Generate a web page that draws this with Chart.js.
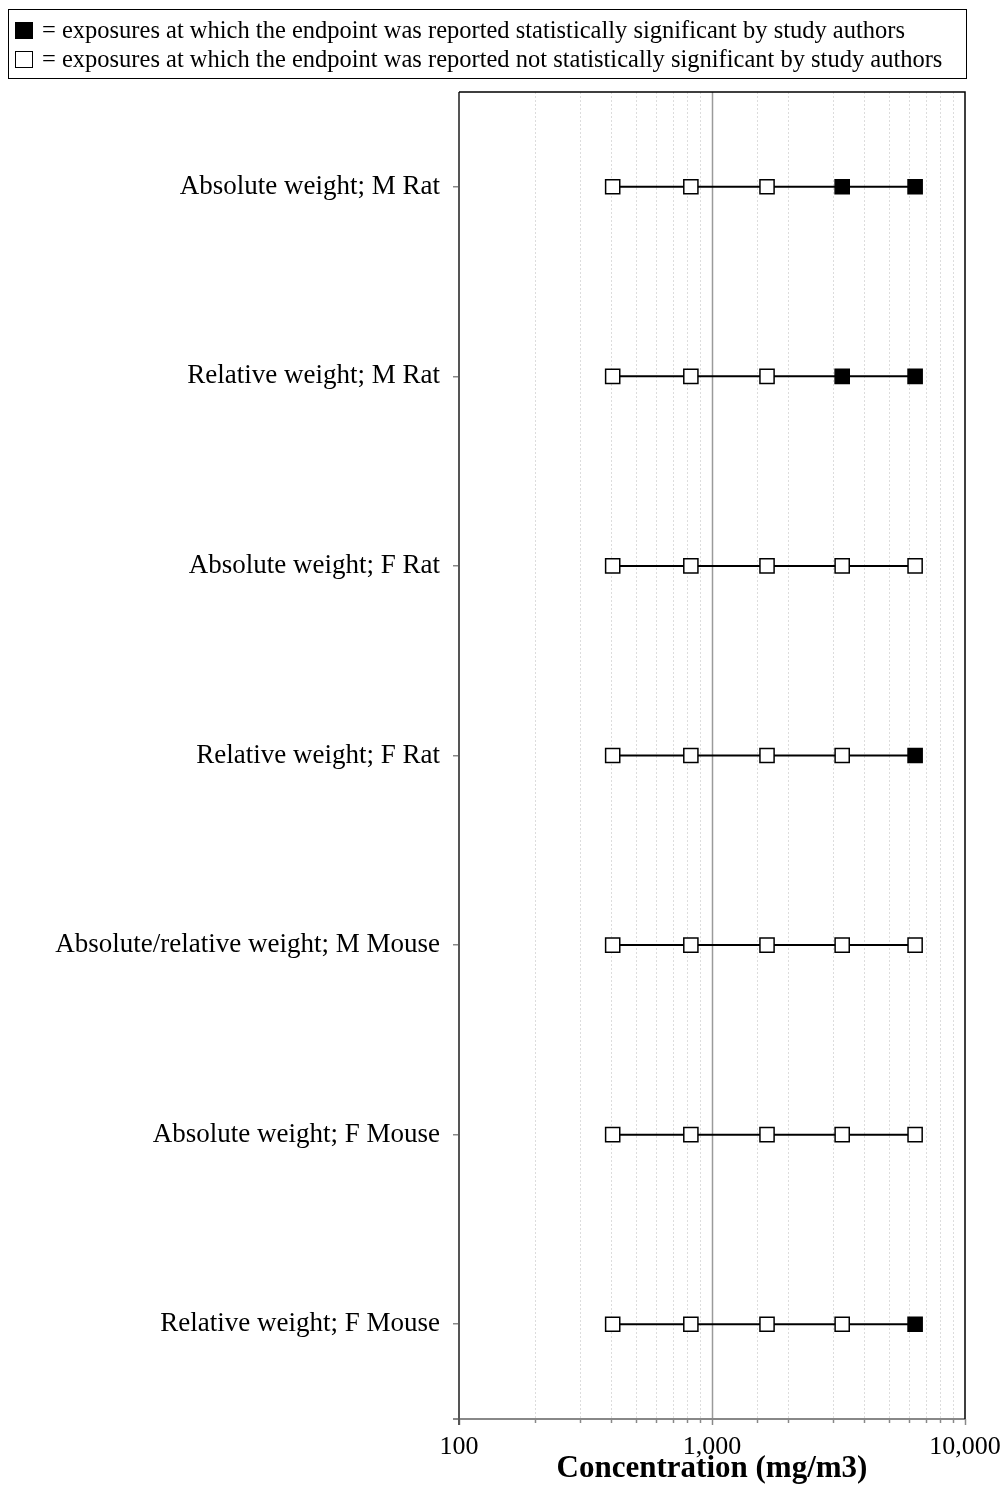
<!DOCTYPE html>
<html>
<head>
<meta charset="utf-8">
<script src="https://cdn.jsdelivr.net/npm/chart.js@4"></script>
<style>
  body { margin: 0; background: #fff; font-family: "Liberation Serif", "Times New Roman", serif; }
  #wrap { position: relative; width: 1006px; height: 1488px; }
  #legend {
    position: absolute; left: 8px; top: 9px; width: 957px; height: 68px;
    border: 1.5px solid #000; font-size: 24.5px; color: #000;
  }
  .row { position: absolute; left: 6px; height: 26px; line-height: 26px; white-space: nowrap; }
  .sq { display: inline-block; width: 16px; height: 15px; border: 1px solid #000; vertical-align: -1px; margin-right: 9px; }
  #chart { position: absolute; left: 0; top: 0; }
</style>
</head>
<body>
<div id="wrap">
  <canvas id="chart" width="1006" height="1488"></canvas>
  <div id="legend">
    <div class="row" style="top:7px"><span class="sq" style="background:#000"></span>= exposures at which the endpoint was reported statistically significant by study authors</div>
    <div class="row" style="top:36px"><span class="sq" style="background:#fff"></span>= exposures at which the endpoint was reported not statistically significant by study authors</div>
  </div>
</div>
<script>
// rows top to bottom
const rowLabels = [
  "Absolute weight; M Rat",
  "Relative weight; M Rat",
  "Absolute weight; F Rat",
  "Relative weight; F Rat",
  "Absolute/relative weight; M Mouse",
  "Absolute weight; F Mouse",
  "Relative weight; F Mouse"
];
// exposure concentrations, mg/m3
const doses = [405, 825, 1650, 3270, 6350];
// 1 = statistically significant
const significant = [
  [0, 0, 0, 1, 1],
  [0, 0, 0, 1, 1],
  [0, 0, 0, 0, 0],
  [0, 0, 0, 0, 1],
  [0, 0, 0, 0, 0],
  [0, 0, 0, 0, 0],
  [0, 0, 0, 0, 1]
];
const xTickLabels = { 100: "100", 1000: "1,000", 10000: "10,000" };

const datasets = rowLabels.map((lab, i) => ({
  label: lab,
  data: doses.map(d => ({ x: d, y: lab })),
  borderColor: "#000",
  borderWidth: 2,
  pointStyle: "rect",
  pointRadius: 10,
  pointBorderWidth: 1.5,
  pointBorderColor: "#000",
  pointBackgroundColor: significant[i].map(s => s ? "#000" : "#fff")
}));

// grid, frame and x tick marks
const framePlugin = {
  id: "frame",
  beforeDatasetsDraw(chart) {
    const ctx = chart.ctx;
    const a = chart.chartArea;
    const xs = chart.scales.x;
    ctx.save();
    xs.ticks.forEach(t => {
      const px = Math.round(xs.getPixelForValue(t.value)) + 0.5;
      const major = Math.abs(Math.log10(t.value) % 1) < 1e-6;
      if (t.value !== 100 && t.value !== 10000) {
        ctx.beginPath();
        if (t.value === 1000) {
          ctx.strokeStyle = "#9a9a9a"; ctx.lineWidth = 1.5; ctx.setLineDash([]);
        } else {
          ctx.strokeStyle = "#dcdcdc"; ctx.lineWidth = 1; ctx.setLineDash([2, 2]);
        }
        ctx.moveTo(px, a.top); ctx.lineTo(px, a.bottom); ctx.stroke();
      }
      ctx.setLineDash([]);
      ctx.strokeStyle = "#888"; ctx.lineWidth = 1.5;
      ctx.beginPath();
      ctx.moveTo(px, a.bottom); ctx.lineTo(px, a.bottom + (major ? 6 : 4)); ctx.stroke();
    });
    // bottom axis
    ctx.strokeStyle = "#888"; ctx.lineWidth = 2;
    ctx.beginPath(); ctx.moveTo(a.left - 6, a.bottom); ctx.lineTo(a.right, a.bottom); ctx.stroke();
    // left axis
    ctx.strokeStyle = "#555"; ctx.lineWidth = 2;
    ctx.beginPath(); ctx.moveTo(a.left, a.top); ctx.lineTo(a.left, a.bottom + 6); ctx.stroke();
    // top and right
    ctx.strokeStyle = "#000"; ctx.lineWidth = 1.5;
    ctx.beginPath();
    ctx.moveTo(a.left, a.top); ctx.lineTo(a.right, a.top); ctx.lineTo(a.right, a.bottom);
    ctx.stroke();
    ctx.restore();
  }
};

new Chart(document.getElementById("chart"), {
  type: "line",
  data: { datasets: datasets },
  plugins: [framePlugin],
  options: {
    responsive: false,
    animation: false,
    layout: { padding: { top: 92, right: 41, left: 0, bottom: 0 } },
    plugins: { legend: { display: false }, tooltip: { enabled: false } },
    scales: {
      x: {
        type: "logarithmic",
        min: 100,
        max: 10000,
        afterFit: s => { s.height = 69; s.paddingLeft = 0; s.paddingRight = 0; },
        grid: { display: false, drawTicks: false },
        border: { display: false },
        ticks: {
          autoSkip: false,
          maxRotation: 0,
          padding: 13,
          color: "#000",
          font: { family: "Liberation Serif", size: 26 },
          callback: v => xTickLabels[v] || ""
        },
        title: {
          display: true,
          text: "Concentration (mg/m3)",
          color: "#000",
          font: { family: "Liberation Serif", size: 31, weight: "bold" },
          padding: { top: 0, bottom: 0 }
        }
      },
      y: {
        type: "category",
        labels: rowLabels,
        offset: true,
        afterFit: s => { s.width = 459; s.paddingTop = 0; s.paddingBottom = 0; },
        grid: { drawOnChartArea: false, drawTicks: true, tickLength: 6, color: "#888", lineWidth: 1.5 },
        border: { display: false },
        ticks: {
          padding: 13,
          color: "#000",
          font: { family: "Liberation Serif", size: 27 }
        }
      }
    }
  }
});
</script>
</body>
</html>
